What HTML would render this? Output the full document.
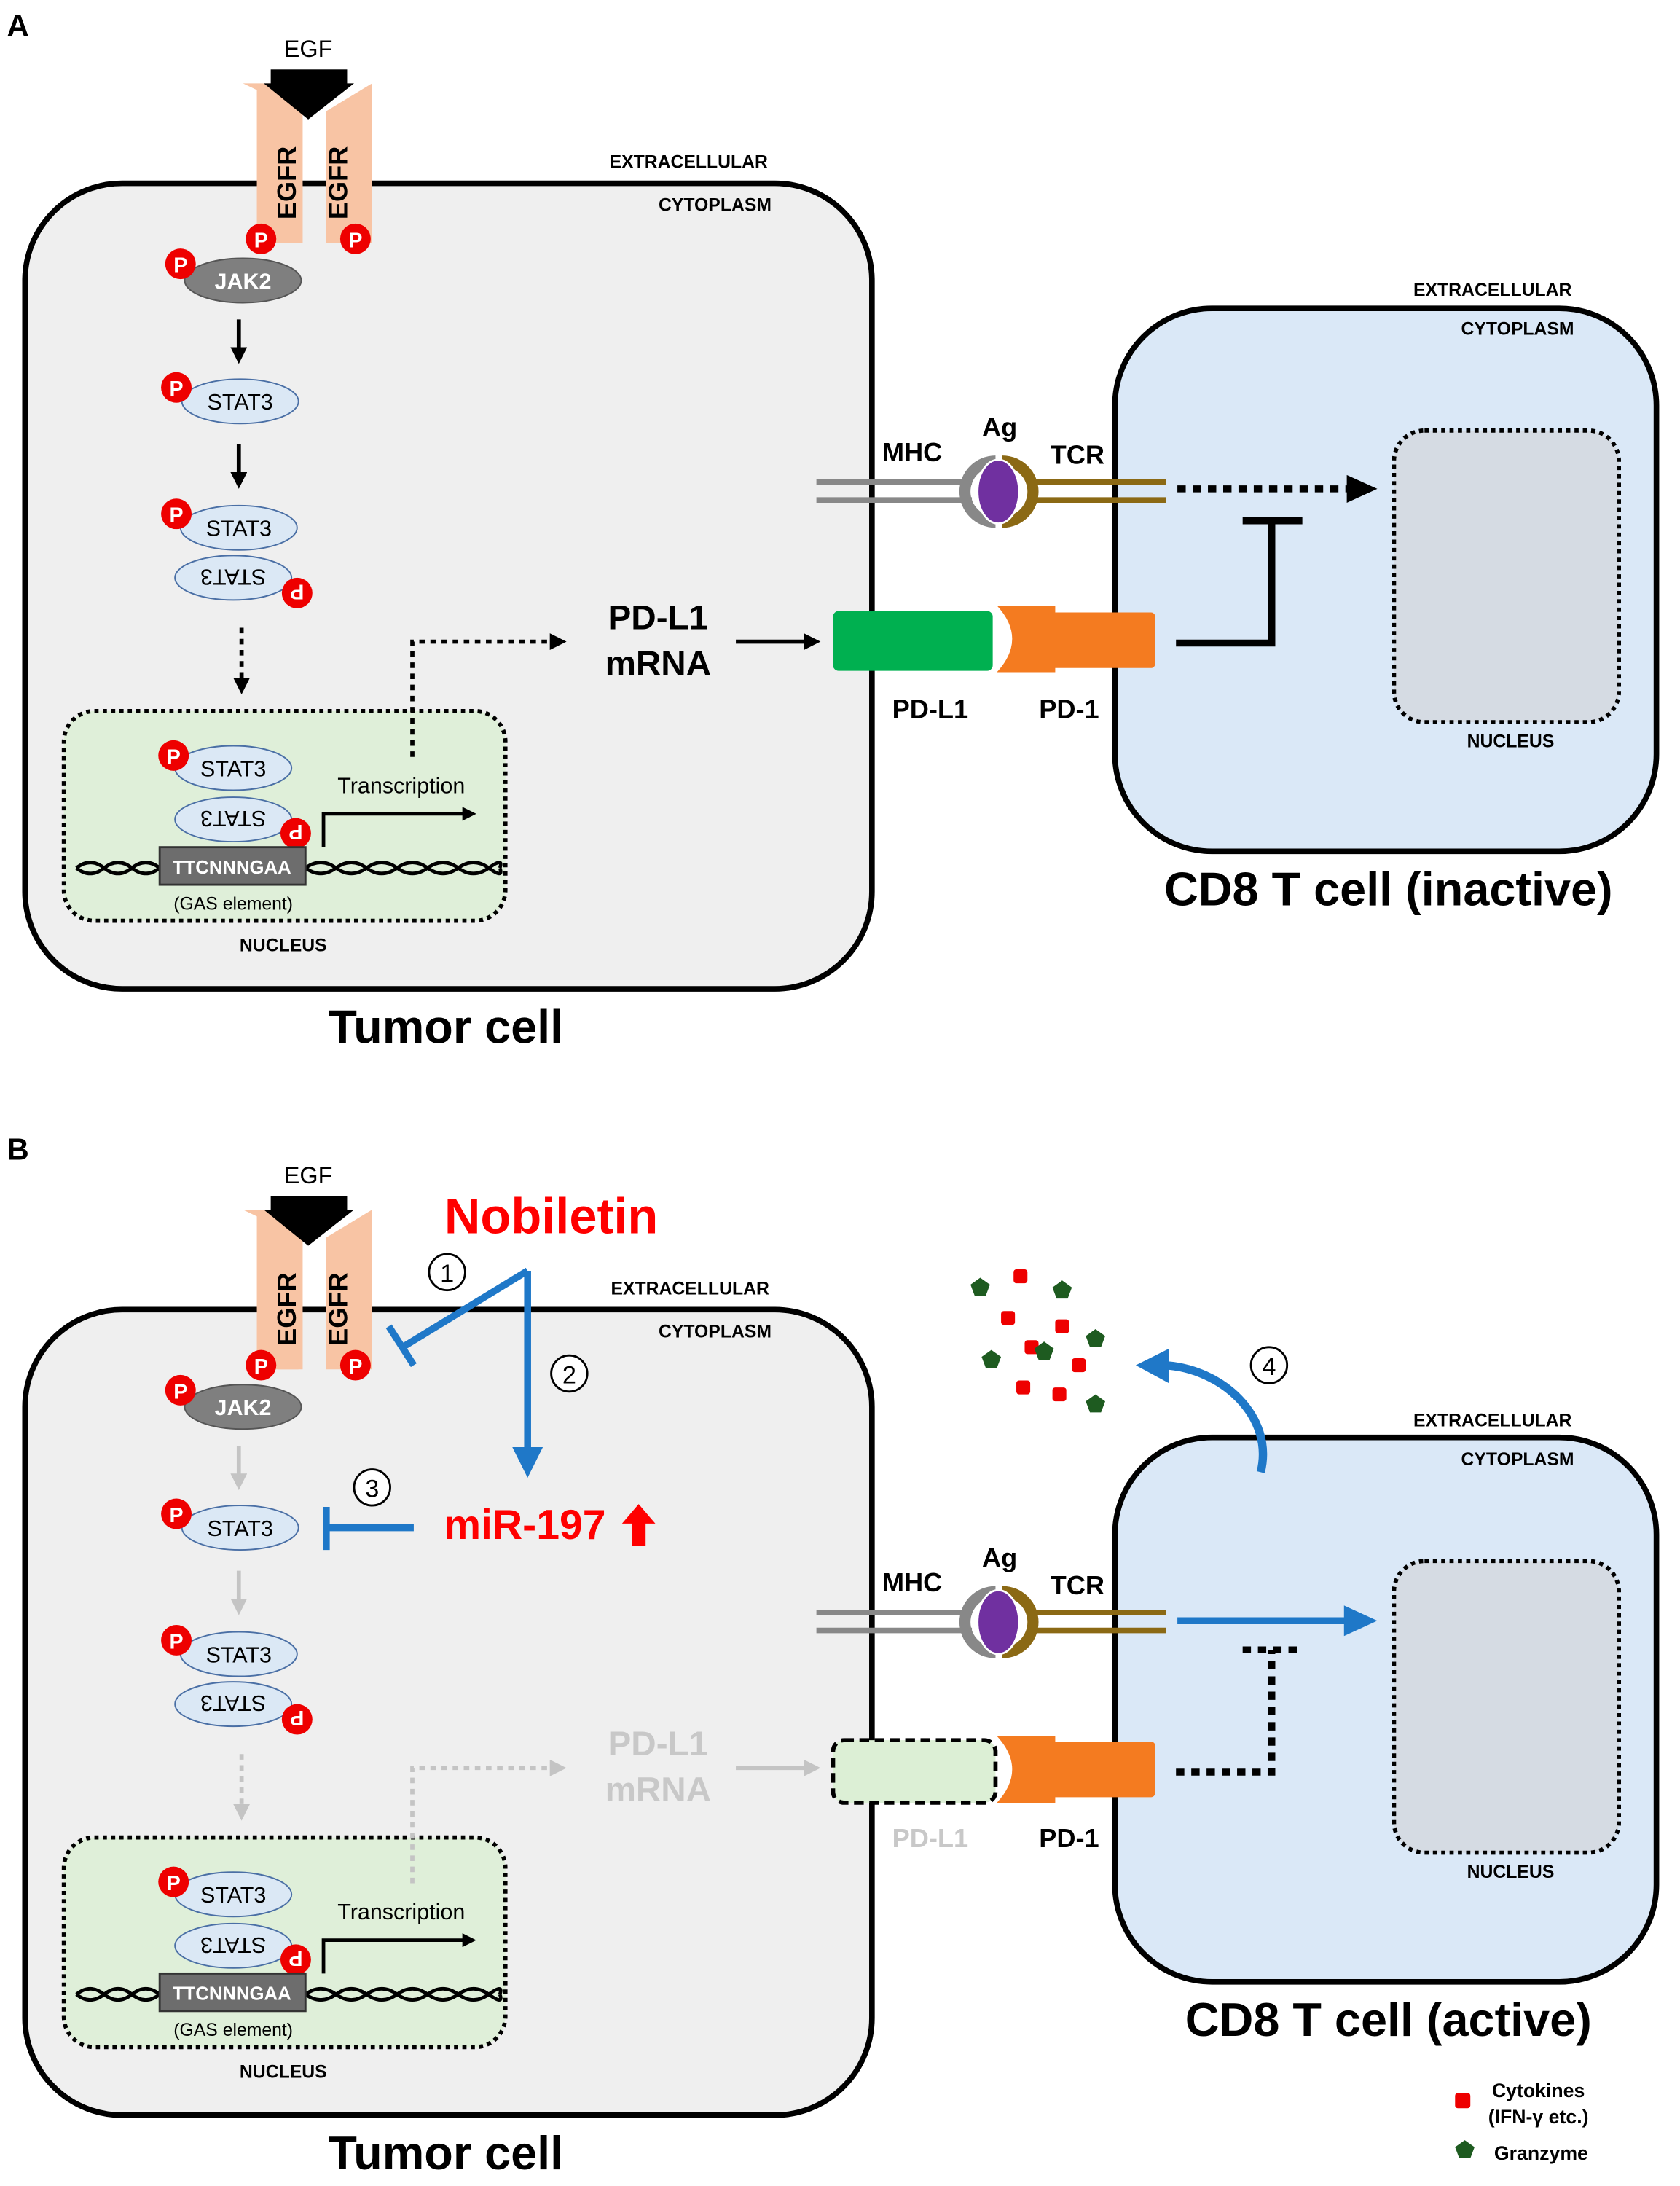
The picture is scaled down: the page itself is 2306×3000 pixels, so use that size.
<!DOCTYPE html>
<html><head><meta charset="utf-8"><style>
html,body{margin:0;padding:0;background:#fff}
svg{display:block}
text{font-family:"Liberation Sans",Arial,sans-serif}
.b{font-weight:bold}
</style></head><body>
<svg width="2306" height="3000" viewBox="0 0 1210 1574" preserveAspectRatio="none" xmlns="http://www.w3.org/2000/svg">
<defs>
<marker id="ab" markerWidth="4" markerHeight="4" refX="2" refY="2" orient="auto" markerUnits="strokeWidth"><path d="M0,0 L4,2 L0,4z" fill="#000"/></marker>
<marker id="ag" markerWidth="4" markerHeight="4" refX="2" refY="2" orient="auto" markerUnits="strokeWidth"><path d="M0,0 L4,2 L0,4z" fill="#c4c4c4"/></marker>
</defs>

<!-- ================= PANEL A ================= -->
<text x="5" y="26" class="b" font-size="22">A</text>
<g>
<rect x="18" y="132" width="610" height="580" rx="70" fill="#efefef" stroke="#000" stroke-width="4"/>
<text x="496" y="121" class="b" font-size="13" text-anchor="middle">EXTRACELLULAR</text>
<text x="515" y="152" class="b" font-size="13" text-anchor="middle">CYTOPLASM</text>
<text x="222" y="41" font-size="17" text-anchor="middle">EGF</text>
<path d="M175,60 L200,72 L200,175 L215,175 L215,60 Z" fill="#f8c4a4"/>
<path d="M185,60 L218,80 L218,175 L185,175 Z" fill="#f8c4a4"/>
<path d="M268,60 L235,80 L235,175 L268,175 Z" fill="#f8c4a4"/>
<rect x="195" y="50" width="55" height="12" fill="#000"/>
<path d="M190,60 L255,60 L222,86 Z" fill="#000"/>
<text transform="translate(213,158) rotate(-90)" class="b" font-size="19">EGFR</text>
<text transform="translate(250,158) rotate(-90)" class="b" font-size="19">EGFR</text>
<circle cx="188" cy="172" r="11" fill="#e00"/><text x="188" y="178" class="b" font-size="15" fill="#fff" text-anchor="middle">P</text>
<circle cx="256" cy="172" r="11" fill="#e00"/><text x="256" y="178" class="b" font-size="15" fill="#fff" text-anchor="middle">P</text>
<ellipse cx="175" cy="202" rx="42" ry="16" fill="#7f7f7f" stroke="#555"/><text x="175" y="208" class="b" font-size="16" fill="#fff" text-anchor="middle">JAK2</text>
<circle cx="130" cy="190" r="11" fill="#e00"/><text x="130" y="196" class="b" font-size="15" fill="#fff" text-anchor="middle">P</text>
<line x1="172" y1="230" x2="172" y2="256" stroke="#000" stroke-width="3" marker-end="url(#ab)"/>
<ellipse cx="173" cy="289" rx="42" ry="16" fill="#dbe8f5" stroke="#4a6fa5"/><text x="173" y="295" font-size="16" text-anchor="middle">STAT3</text>
<circle cx="127" cy="279" r="11" fill="#e00"/><text x="127" y="285" class="b" font-size="15" fill="#fff" text-anchor="middle">P</text>
<line x1="172" y1="320" x2="172" y2="346" stroke="#000" stroke-width="3" marker-end="url(#ab)"/>
<ellipse cx="172" cy="380" rx="42" ry="16" fill="#dbe8f5" stroke="#4a6fa5"/><text x="172" y="386" font-size="16" text-anchor="middle">STAT3</text>
<circle cx="127" cy="370" r="11" fill="#e00"/><text x="127" y="376" class="b" font-size="15" fill="#fff" text-anchor="middle">P</text>
<ellipse cx="168" cy="416" rx="42" ry="16" fill="#dbe8f5" stroke="#4a6fa5"/><text transform="translate(168,416) rotate(180)" y="6" font-size="16" text-anchor="middle">STAT3</text>
<circle cx="214" cy="427" r="11" fill="#e00"/><text transform="translate(214,427) rotate(180)" y="6" class="b" font-size="15" fill="#fff" text-anchor="middle">P</text>
<line x1="174" y1="452" x2="174" y2="494" stroke="#000" stroke-width="3" stroke-dasharray="4,4" marker-end="url(#ab)"/>
<rect x="46" y="512" width="318" height="151" rx="22" fill="#dfefd9" stroke="#000" stroke-width="3" stroke-dasharray="3,3"/>
<text x="204" y="685" class="b" font-size="13" text-anchor="middle">NUCLEUS</text>
<ellipse cx="168" cy="553" rx="42" ry="16" fill="#dbe8f5" stroke="#4a6fa5"/><text x="168" y="559" font-size="16" text-anchor="middle">STAT3</text>
<circle cx="125" cy="544" r="11" fill="#e00"/><text x="125" y="550" class="b" font-size="15" fill="#fff" text-anchor="middle">P</text>
<ellipse cx="168" cy="590" rx="42" ry="16" fill="#dbe8f5" stroke="#4a6fa5"/><text transform="translate(168,590) rotate(180)" y="6" font-size="16" text-anchor="middle">STAT3</text>
<circle cx="213" cy="600" r="11" fill="#e00"/><text transform="translate(213,600) rotate(180)" y="6" class="b" font-size="15" fill="#fff" text-anchor="middle">P</text>
<path d="M55,625 q10,-8 20,0 t20,0 t20,0 M220,625 q11,-8 22,0 t22,0 t22,0 t22,0 t22,0 t22,0 t8,0" fill="none" stroke="#000" stroke-width="2.5"/>
<path d="M55,625 q10,8 20,0 t20,0 t20,0 M220,625 q11,8 22,0 t22,0 t22,0 t22,0 t22,0 t22,0 t8,0" fill="none" stroke="#000" stroke-width="2.5"/>
<rect x="115" y="610" width="105" height="27" fill="#6d6d6d" stroke="#333" stroke-width="1.5"/>
<text x="167" y="629" class="b" font-size="13.5" fill="#fff" text-anchor="middle">TTCNNNGAA</text>
<text x="168" y="655" font-size="13" text-anchor="middle">(GAS element)</text>
<path d="M233,610 L233,586 L338,586" fill="none" stroke="#000" stroke-width="2.5" marker-end="url(#ab)"/>
<text x="289" y="571" font-size="16" text-anchor="middle">Transcription</text>
<path d="M297,545 L297,462 L402,462" fill="none" stroke="#000" stroke-width="3" stroke-dasharray="4,4" marker-end="url(#ab)"/>
<text x="474" y="453" class="b" font-size="25" text-anchor="middle">PD-L1</text>
<text x="474" y="486" class="b" font-size="25" text-anchor="middle">mRNA</text>
<line x1="530" y1="462" x2="585" y2="462" stroke="#000" stroke-width="3" marker-end="url(#ab)"/>
<text x="321" y="751" class="b" font-size="34" text-anchor="middle">Tumor cell</text>
</g>
<!-- T cell A -->
<rect x="803" y="222" width="390" height="391" rx="70" fill="#dae8f7" stroke="#000" stroke-width="4"/>
<text x="1075" y="213" class="b" font-size="13" text-anchor="middle">EXTRACELLULAR</text>
<text x="1093" y="241" class="b" font-size="13" text-anchor="middle">CYTOPLASM</text>
<rect x="1004" y="310" width="162" height="210" rx="22" fill="#d5dbe3" stroke="#000" stroke-width="3" stroke-dasharray="3,3"/>
<text x="1088" y="538" class="b" font-size="13" text-anchor="middle">NUCLEUS</text>
<text x="1000" y="652" class="b" font-size="34" text-anchor="middle">CD8 T cell (inactive)</text>
<!-- PD-L1 / PD-1 A -->
<rect x="600" y="440" width="115" height="43" rx="4" fill="#00b050"/>
<path d="M718,436 L760,436 L760,484 L718,484 Q740,460 718,436Z" fill="#f47b20"/>
<rect x="755" y="441" width="77" height="40" rx="3" fill="#f47b20"/>
<text x="670" y="517" class="b" font-size="19" text-anchor="middle">PD-L1</text>
<text x="770" y="517" class="b" font-size="19" text-anchor="middle">PD-1</text>
<!-- MHC/Ag/TCR A -->
<g>
<line x1="588" y1="347" x2="700" y2="347" stroke="#888" stroke-width="4"/>
<line x1="588" y1="360" x2="700" y2="360" stroke="#888" stroke-width="4"/>
<path d="M717,328 A26,26 0 0 0 717,380 L717,372 A18,18 0 0 1 717,336 Z" fill="#888"/>
<line x1="740" y1="347" x2="840" y2="347" stroke="#8b6914" stroke-width="4"/>
<line x1="740" y1="360" x2="840" y2="360" stroke="#8b6914" stroke-width="4"/>
<path d="M722,328 A26,26 0 0 1 722,380 L722,372 A18,18 0 0 0 722,336 Z" fill="#8b6914"/>
<ellipse cx="719" cy="354" rx="15" ry="23" fill="#7030a0" stroke="#fff" stroke-width="1.5"/>
<text x="657" y="332" class="b" font-size="19" text-anchor="middle">MHC</text>
<text x="720" y="314" class="b" font-size="19" text-anchor="middle">Ag</text>
<text x="776" y="334" class="b" font-size="19" text-anchor="middle">TCR</text>
</g>
<line x1="848" y1="352" x2="975" y2="352" stroke="#000" stroke-width="5" stroke-dasharray="6,5"/>
<path d="M970,342 L992,352 L970,362Z" fill="#000"/>
<path d="M847,463 L916,463 L916,375 M895,375 L938,375" fill="none" stroke="#000" stroke-width="5"/>

<!-- ================= PANEL B ================= -->
<text x="5" y="835" class="b" font-size="22">B</text>
<rect x="18" y="943" width="610" height="580" rx="70" fill="#efefef" stroke="#000" stroke-width="4"/>
<text x="497" y="932" class="b" font-size="13" text-anchor="middle">EXTRACELLULAR</text>
<text x="515" y="963" class="b" font-size="13" text-anchor="middle">CYTOPLASM</text>
<g transform="translate(0,811)">
<text x="222" y="41" font-size="17" text-anchor="middle">EGF</text>
<path d="M185,60 L218,80 L218,175 L185,175 Z" fill="#f8c4a4"/>
<path d="M175,60 L200,72 L200,175 L215,175 L215,60 Z" fill="#f8c4a4"/>
<path d="M268,60 L235,80 L235,175 L268,175 Z" fill="#f8c4a4"/>
<rect x="195" y="50" width="55" height="12" fill="#000"/>
<path d="M190,60 L255,60 L222,86 Z" fill="#000"/>
<text transform="translate(213,158) rotate(-90)" class="b" font-size="19">EGFR</text>
<text transform="translate(250,158) rotate(-90)" class="b" font-size="19">EGFR</text>
<circle cx="188" cy="172" r="11" fill="#e00"/><text x="188" y="178" class="b" font-size="15" fill="#fff" text-anchor="middle">P</text>
<circle cx="256" cy="172" r="11" fill="#e00"/><text x="256" y="178" class="b" font-size="15" fill="#fff" text-anchor="middle">P</text>
<ellipse cx="175" cy="202" rx="42" ry="16" fill="#7f7f7f" stroke="#555"/><text x="175" y="208" class="b" font-size="16" fill="#fff" text-anchor="middle">JAK2</text>
<circle cx="130" cy="190" r="11" fill="#e00"/><text x="130" y="196" class="b" font-size="15" fill="#fff" text-anchor="middle">P</text>
<line x1="172" y1="230" x2="172" y2="256" stroke="#c4c4c4" stroke-width="3" marker-end="url(#ag)"/>
<ellipse cx="173" cy="289" rx="42" ry="16" fill="#dbe8f5" stroke="#4a6fa5"/><text x="173" y="295" font-size="16" text-anchor="middle">STAT3</text>
<circle cx="127" cy="279" r="11" fill="#e00"/><text x="127" y="285" class="b" font-size="15" fill="#fff" text-anchor="middle">P</text>
<line x1="172" y1="320" x2="172" y2="346" stroke="#c4c4c4" stroke-width="3" marker-end="url(#ag)"/>
<ellipse cx="172" cy="380" rx="42" ry="16" fill="#dbe8f5" stroke="#4a6fa5"/><text x="172" y="386" font-size="16" text-anchor="middle">STAT3</text>
<circle cx="127" cy="370" r="11" fill="#e00"/><text x="127" y="376" class="b" font-size="15" fill="#fff" text-anchor="middle">P</text>
<ellipse cx="168" cy="416" rx="42" ry="16" fill="#dbe8f5" stroke="#4a6fa5"/><text transform="translate(168,416) rotate(180)" y="6" font-size="16" text-anchor="middle">STAT3</text>
<circle cx="214" cy="427" r="11" fill="#e00"/><text transform="translate(214,427) rotate(180)" y="6" class="b" font-size="15" fill="#fff" text-anchor="middle">P</text>
<line x1="174" y1="452" x2="174" y2="494" stroke="#c4c4c4" stroke-width="3" stroke-dasharray="4,4" marker-end="url(#ag)"/>
<rect x="46" y="512" width="318" height="151" rx="22" fill="#dfefd9" stroke="#000" stroke-width="3" stroke-dasharray="3,3"/>
<text x="204" y="685" class="b" font-size="13" text-anchor="middle">NUCLEUS</text>
<ellipse cx="168" cy="553" rx="42" ry="16" fill="#dbe8f5" stroke="#4a6fa5"/><text x="168" y="559" font-size="16" text-anchor="middle">STAT3</text>
<circle cx="125" cy="544" r="11" fill="#e00"/><text x="125" y="550" class="b" font-size="15" fill="#fff" text-anchor="middle">P</text>
<ellipse cx="168" cy="590" rx="42" ry="16" fill="#dbe8f5" stroke="#4a6fa5"/><text transform="translate(168,590) rotate(180)" y="6" font-size="16" text-anchor="middle">STAT3</text>
<circle cx="213" cy="600" r="11" fill="#e00"/><text transform="translate(213,600) rotate(180)" y="6" class="b" font-size="15" fill="#fff" text-anchor="middle">P</text>
<path d="M55,625 q10,-8 20,0 t20,0 t20,0 M220,625 q11,-8 22,0 t22,0 t22,0 t22,0 t22,0 t22,0 t8,0" fill="none" stroke="#000" stroke-width="2.5"/>
<path d="M55,625 q10,8 20,0 t20,0 t20,0 M220,625 q11,8 22,0 t22,0 t22,0 t22,0 t22,0 t22,0 t8,0" fill="none" stroke="#000" stroke-width="2.5"/>
<rect x="115" y="610" width="105" height="27" fill="#6d6d6d" stroke="#333" stroke-width="1.5"/>
<text x="167" y="629" class="b" font-size="13.5" fill="#fff" text-anchor="middle">TTCNNNGAA</text>
<text x="168" y="655" font-size="13" text-anchor="middle">(GAS element)</text>
<path d="M233,610 L233,586 L338,586" fill="none" stroke="#000" stroke-width="2.5" marker-end="url(#ab)"/>
<text x="289" y="571" font-size="16" text-anchor="middle">Transcription</text>
<path d="M297,545 L297,462 L402,462" fill="none" stroke="#c4c4c4" stroke-width="3" stroke-dasharray="4,4" marker-end="url(#ag)"/>
<text x="474" y="453" class="b" font-size="25" fill="#c8c8c8" text-anchor="middle">PD-L1</text>
<text x="474" y="486" class="b" font-size="25" fill="#c8c8c8" text-anchor="middle">mRNA</text>
<line x1="530" y1="462" x2="585" y2="462" stroke="#c4c4c4" stroke-width="3" marker-end="url(#ag)"/>
<text x="321" y="751" class="b" font-size="34" text-anchor="middle">Tumor cell</text>
</g>
<!-- Nobiletin -->
<text x="397" y="888" class="b" font-size="36" fill="#f00" text-anchor="middle">Nobiletin</text>
<path d="M380,915 L290,970" stroke="#1f78c8" stroke-width="5" fill="none"/>
<line x1="280" y1="955" x2="298" y2="983" stroke="#1f78c8" stroke-width="5"/>
<line x1="380" y1="915" x2="380" y2="1048" stroke="#1f78c8" stroke-width="5"/>
<path d="M369,1042 L380,1064 L391,1042Z" fill="#1f78c8"/>
<circle cx="322" cy="916" r="13" fill="#fff" stroke="#000" stroke-width="1.5"/><text x="322" y="923" font-size="18" text-anchor="middle">1</text>
<circle cx="410" cy="989" r="13" fill="#fff" stroke="#000" stroke-width="1.5"/><text x="410" y="996" font-size="18" text-anchor="middle">2</text>
<circle cx="268" cy="1071" r="13" fill="#fff" stroke="#000" stroke-width="1.5"/><text x="268" y="1078" font-size="18" text-anchor="middle">3</text>
<text x="378" y="1108" class="b" font-size="30" fill="#f00" text-anchor="middle">miR-197</text>
<path d="M455,1113 L455,1097 L448,1097 L460,1083 L472,1097 L465,1097 L465,1113Z" fill="#f00"/>
<line x1="298" y1="1100" x2="235" y2="1100" stroke="#1f78c8" stroke-width="5"/>
<line x1="235" y1="1085" x2="235" y2="1116" stroke="#1f78c8" stroke-width="5"/>
<!-- T cell B -->
<rect x="803" y="1035" width="390" height="392" rx="70" fill="#dae8f7" stroke="#000" stroke-width="4"/>
<text x="1075" y="1027" class="b" font-size="13" text-anchor="middle">EXTRACELLULAR</text>
<text x="1093" y="1055" class="b" font-size="13" text-anchor="middle">CYTOPLASM</text>
<rect x="1004" y="1124" width="162" height="210" rx="22" fill="#d5dbe3" stroke="#000" stroke-width="3" stroke-dasharray="3,3"/>
<text x="1088" y="1352" class="b" font-size="13" text-anchor="middle">NUCLEUS</text>
<text x="1000" y="1466" class="b" font-size="34" text-anchor="middle">CD8 T cell (active)</text>
<!-- PD-L1 B -->
<rect x="600" y="1253" width="117" height="45" rx="8" fill="#dcefd5" stroke="#000" stroke-width="3" stroke-dasharray="7,4"/>
<path d="M718,1250 L760,1250 L760,1298 L718,1298 Q740,1274 718,1250Z" fill="#f47b20"/>
<rect x="755" y="1254" width="77" height="40" rx="3" fill="#f47b20"/>
<text x="670" y="1330" class="b" font-size="19" fill="#c8c8c8" text-anchor="middle">PD-L1</text>
<text x="770" y="1330" class="b" font-size="19" text-anchor="middle">PD-1</text>
<g transform="translate(0,814)">
<line x1="588" y1="347" x2="700" y2="347" stroke="#888" stroke-width="4"/>
<line x1="588" y1="360" x2="700" y2="360" stroke="#888" stroke-width="4"/>
<path d="M717,328 A26,26 0 0 0 717,380 L717,372 A18,18 0 0 1 717,336 Z" fill="#888"/>
<line x1="740" y1="347" x2="840" y2="347" stroke="#8b6914" stroke-width="4"/>
<line x1="740" y1="360" x2="840" y2="360" stroke="#8b6914" stroke-width="4"/>
<path d="M722,328 A26,26 0 0 1 722,380 L722,372 A18,18 0 0 0 722,336 Z" fill="#8b6914"/>
<ellipse cx="719" cy="354" rx="15" ry="23" fill="#7030a0" stroke="#fff" stroke-width="1.5"/>
<text x="657" y="332" class="b" font-size="19" text-anchor="middle">MHC</text>
<text x="720" y="314" class="b" font-size="19" text-anchor="middle">Ag</text>
<text x="776" y="334" class="b" font-size="19" text-anchor="middle">TCR</text>
</g>
<line x1="848" y1="1167" x2="972" y2="1167" stroke="#1f78c8" stroke-width="5"/>
<path d="M968,1156 L992,1167 L968,1178Z" fill="#1f78c8"/>
<path d="M847,1276 L916,1276 L916,1188 M895,1188 L938,1188" fill="none" stroke="#000" stroke-width="5" stroke-dasharray="6,5"/>
<!-- curved arrow 4 -->
<path d="M908,1060 C918,1020 880,985 838,983" fill="none" stroke="#1f78c8" stroke-width="6"/>
<path d="M842,971 L818,983 L842,996Z" fill="#1f78c8"/>
<circle cx="914" cy="983" r="13" fill="#fff" stroke="#000" stroke-width="1.5"/><text x="914" y="990" font-size="18" text-anchor="middle">4</text>
<!-- cytokines/granzyme -->
<g fill="#e00">
<rect x="730" y="914" width="10" height="10" rx="2"/>
<rect x="721" y="944" width="10" height="10" rx="2"/>
<rect x="760" y="950" width="10" height="10" rx="2"/>
<rect x="738" y="965" width="10" height="10" rx="2"/>
<rect x="772" y="978" width="10" height="10" rx="2"/>
<rect x="732" y="994" width="10" height="10" rx="2"/>
<rect x="758" y="999" width="10" height="10" rx="2"/>
<rect x="1048" y="1507" width="11" height="11" rx="2"/>
</g>
<g fill="#1e5b20">
<path d="M706,920 l7,5 -3,8 -8,0 -3,-8z"/>
<path d="M765,922 l7,5 -3,8 -8,0 -3,-8z"/>
<path d="M714,972 l7,5 -3,8 -8,0 -3,-8z"/>
<path d="M752,966 l7,5 -3,8 -8,0 -3,-8z"/>
<path d="M789,957 l7,5 -3,8 -8,0 -3,-8z"/>
<path d="M789,1004 l7,5 -3,8 -8,0 -3,-8z"/>
<path d="M1055,1541 l7,5 -3,8 -8,0 -3,-8z"/>
</g>
<text x="1108" y="1510" class="b" font-size="14" text-anchor="middle">Cytokines</text>
<text x="1108" y="1529" class="b" font-size="14" text-anchor="middle">(IFN-γ etc.)</text>
<text x="1110" y="1555" class="b" font-size="14" text-anchor="middle">Granzyme</text>
</svg>
</body></html>
